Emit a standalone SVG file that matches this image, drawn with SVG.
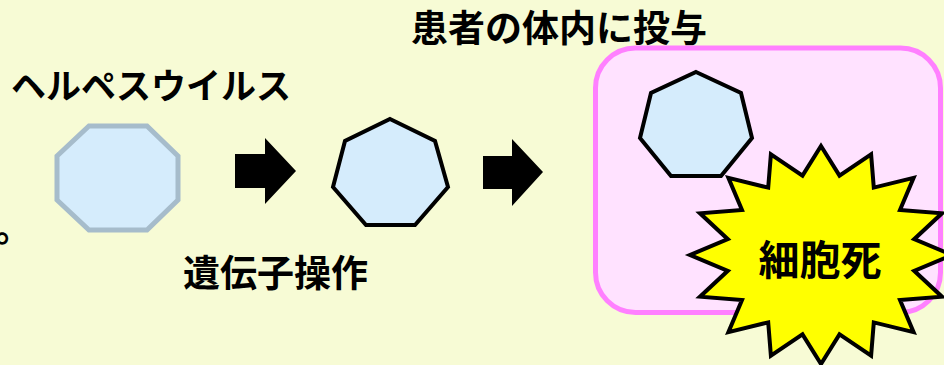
<svg xmlns="http://www.w3.org/2000/svg" width="944" height="365" viewBox="0 0 944 365">
<style>
text{font-family:"Noto Sans CJK JP","Noto Sans CJK SC",sans-serif;font-weight:bold;fill:#000}
.cell{fill:#D5ECFC;stroke:#000;stroke-width:4;stroke-linejoin:miter}
.arrow{fill:#000}
</style>
<rect x="0" y="0" width="944" height="365" fill="#F7FBD5"/>
<text x="-5" y="242" font-size="37">。</text>
<g id="label-herpes"><text x="11" y="99" font-size="35">ヘルペスウイルス</text></g>
<g id="virus">
<polygon points="89,126 147,126 178,156 178,200 147,230 89,230 57,200 57,156" fill="#D5ECFC" stroke="#A6BCCB" stroke-width="5"/>
</g>
<g id="connectors">
<polygon class="arrow" points="235,154 265,154 265,138 296,171 265,204 265,188 235,188"/>
<polygon class="arrow" points="483,156 512,156 512,139 543,172 512,206 512,189 483,189"/>
</g>
<g id="modified-virus">
<polygon class="cell" points="390,119 435,141 448,187 415,225 366,225 333,187 345,141"/>
</g>
<g id="label-genetic"><text x="183" y="287" font-size="37">遺伝子操作</text></g>
<g id="label-admin"><text x="411" y="42" font-size="37">患者の体内に投与</text></g>
<g id="patient-body">
<rect x="595.5" y="48" width="345" height="264.5" rx="40" ry="40" fill="#FFE2FF" stroke="#FF80FF" stroke-width="5"/>
<polygon class="cell" points="696,72 741,93 752,138 721,176 671,176 640,138 651,93"/>
</g>
<g id="cell-death">
<polygon points="821,146 839.5,175.6 871.1,154.3 873.8,187.6 913.6,177.9 900,210 942,213.3 914.2,239.2 952,255 914.2,270.8 942,296.7 900,300 913.6,332.1 873.8,322.4 871.1,355.7 839.5,334.4 821,364 802.5,334.4 770.9,355.7 768.2,322.4 728.4,332.1 742,300 700,296.7 727.8,270.8 690,255 727.8,239.2 700,213.3 742,210 728.4,177.9 768.2,187.6 770.9,154.3 802.5,175.6" fill="#FFFF00" stroke="#000" stroke-width="4" stroke-linejoin="miter"/>
<text x="820" y="275" font-size="41" text-anchor="middle">細胞死</text>
</g>
</svg>
